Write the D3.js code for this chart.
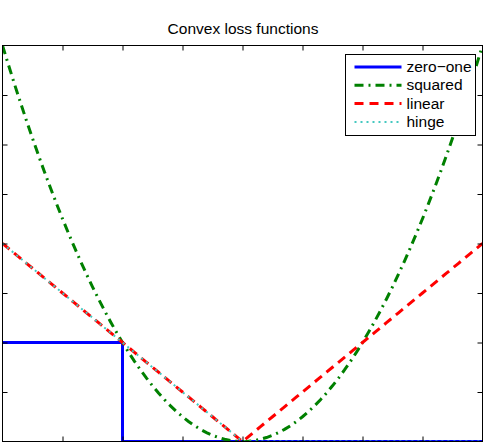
<!DOCTYPE html>
<html>
<head>
<meta charset="utf-8">
<script src="https://cdn.jsdelivr.net/npm/d3@7"></script>
<style>
  body { margin: 0; background: #fff; }
  svg { display: block; font-family: "Liberation Sans", Arial, sans-serif; }
</style>
</head>
<body>
<svg class="chart" width="485" height="444"></svg>
<script>
// margin values z
const zValues = d3.range(-2, 2.0001, 0.05);
const zeroOneX = [-2, -1, -1, 2];
const zeroOneY = [1, 1, 0, 0];
const squared = zValues.map(z => z * z);
const linear = zValues.map(z => Math.abs(z));
const hinge = zValues.map(z => Math.max(0, -z));
const xTicks = [-1.5, -1, -0.5, 0, 0.5, 1, 1.5];
const yTicks = [0.5, 1, 1.5, 2, 2.5, 3, 3.5];
const seriesNames = ["zero\u2212one", "squared", "linear", "hinge"];

const svg = d3.select(".chart");
const boxLeft = 2.5, boxRight = 482.5, boxTop = 45.5, boxBottom = 441.5;

const x = d3.scaleLinear().domain([-2, 2]).range([boxLeft, boxRight]);
const y = d3.scaleLinear().domain([0, 4]).range([boxBottom, boxTop]);

const styles = [
  { color: "#0000ff", dash: null, width: 3 },
  { color: "#008000", dash: "9,5,2,5", width: 3 },
  { color: "#ff0000", dash: "9,6", width: 3 },
  { color: "#45c8c0", dash: "2,4", width: 2 }
];

svg.append("clipPath").attr("id", "clip")
  .append("rect")
  .attr("x", boxLeft).attr("y", boxTop - 2)
  .attr("width", boxRight - boxLeft).attr("height", boxBottom - boxTop + 2);

const line = d3.line().x(d => x(d[0])).y(d => y(d[1]));

const data = [
  zeroOneX.map((v, i) => [v, zeroOneY[i]]),
  zValues.map((v, i) => [v, squared[i]]),
  zValues.map((v, i) => [v, linear[i]]),
  zValues.map((v, i) => [v, hinge[i]])
];

const plot = svg.append("g").attr("clip-path", "url(#clip)");
data.forEach((d, i) => {
  plot.append("path")
    .datum(d)
    .attr("d", line)
    .attr("fill", "none")
    .attr("stroke", styles[i].color)
    .attr("stroke-width", styles[i].width)
    .attr("stroke-dasharray", styles[i].dash);
});

// box and ticks (all four sides, inward)
svg.append("rect")
  .attr("x", boxLeft).attr("y", boxTop)
  .attr("width", boxRight - boxLeft).attr("height", boxBottom - boxTop)
  .attr("fill", "none").attr("stroke", "#000");

svg.append("g").attr("transform", `translate(0,${boxBottom})`)
  .call(d3.axisBottom(x).tickValues(xTicks).tickSize(-5).tickFormat(""))
  .call(g => g.select(".domain").remove());
svg.append("g").attr("transform", `translate(0,${boxTop})`)
  .call(d3.axisTop(x).tickValues(xTicks).tickSize(-5).tickFormat(""))
  .call(g => g.select(".domain").remove());
svg.append("g").attr("transform", `translate(${boxLeft},0)`)
  .call(d3.axisLeft(y).tickValues(yTicks).tickSize(-5).tickFormat(""))
  .call(g => g.select(".domain").remove());
svg.append("g").attr("transform", `translate(${boxRight},0)`)
  .call(d3.axisRight(y).tickValues(yTicks).tickSize(-5).tickFormat(""))
  .call(g => g.select(".domain").remove());

// title
svg.append("text")
  .attr("x", 243)
  .attr("y", 34)
  .attr("text-anchor", "middle")
  .attr("font-size", 15.5)
  .text("Convex loss functions");

// legend
const legend = svg.append("g").attr("transform", "translate(345.5,54.5)");
legend.append("rect")
  .attr("width", 130).attr("height", 81)
  .attr("fill", "#fff").attr("stroke", "#000");

seriesNames.forEach((name, i) => {
  const row = 12.5 + i * 18.3;
  legend.append("line")
    .attr("x1", 9).attr("x2", 56)
    .attr("y1", row).attr("y2", row)
    .attr("stroke", styles[i].color)
    .attr("stroke-width", styles[i].width)
    .attr("stroke-dasharray", styles[i].dash);
  legend.append("text")
    .attr("x", 61).attr("y", row + 5)
    .attr("font-size", 15.5)
    .text(name);
});
</script>
</body>
</html>
